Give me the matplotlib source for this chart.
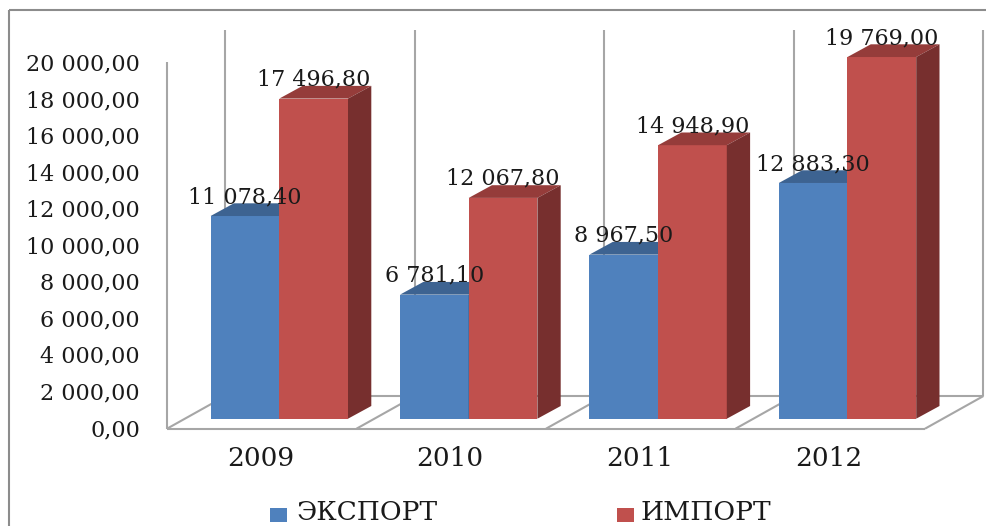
import matplotlib
matplotlib.use("Agg")
import matplotlib.pyplot as plt
from matplotlib.patches import Polygon

YEARS = ["2009", "2010", "2011", "2012"]
EXPORT = [11078.40, 6781.10, 8967.50, 12883.30]
IMPORT = [17496.80, 12067.80, 14948.90, 19769.00]
YTICKS = [0, 2000, 4000, 6000, 8000, 10000, 12000, 14000, 16000, 18000, 20000]

BLUE = ["#4F81BD", "#3D6391", "#2F4D71"]   # front, top, side
RED = ["#C0504D", "#953C3A", "#772F2E"]
LINE = "#A6A6A6"
FRAME = "#8C8C8C"
INK = "#1a1a1a"

W, H = 987, 526
X0, STEP = 279.3, 189.4    # pixel of category 0 centre, pixels per category
Y0, SCALE = 418.7, 0.018296    # pixel of value 0, pixels per unit
BAR_W = 68.7 / STEP
DX, DY = 23.3 / STEP, 12.7 / SCALE    # bar depth


def px(x, y):
    """pixel position in the reference -> data coordinates"""
    return (x - X0) / STEP, (Y0 - y) / SCALE


def money(v):
    return f"{v:,.2f}".replace(",", " ").replace(".", ",")


def bar3d(ax, x, v, cols):
    ax.bar(x, v, BAR_W, color=cols[0], linewidth=0, zorder=3)
    l, r = x - BAR_W / 2, x + BAR_W / 2
    ax.add_patch(Polygon([(l, v), (r, v), (r + DX, v + DY), (l + DX, v + DY)],
                         color=cols[1], lw=0, zorder=3))
    ax.add_patch(Polygon([(r, 0), (r + DX, DY), (r + DX, v + DY), (r, v)],
                         color=cols[2], lw=0, zorder=3))
    ax.text(x, v + 19 / SCALE, money(v), ha="center", va="center", color=INK,
            fontsize=16, zorder=5)


plt.rcParams["font.family"] = "DejaVu Serif"
fig = plt.figure(figsize=(W / 100, H / 100), dpi=100)
ax = fig.add_axes([0, 0, 1, 1])
ax.set_xlim(px(0, 0)[0], px(W, 0)[0])
ax.set_ylim(px(0, H)[1], px(0, 0)[1])
ax.axis("off")


def seg(x1, y1, x2, y2, color=LINE, lw=1.5):
    a, b = px(x1, y1), px(x2, y2)
    ax.plot([a[0], b[0]], [a[1], b[1]], color=color, lw=lw, zorder=1,
            solid_capstyle="butt", clip_on=False)


# outer frame of the picture
seg(8.5, 10, 8.5, H, FRAME)
seg(8.5, 10, W, 10, FRAME)

# walls and floor
seg(167, 62, 167, 428.7)
seg(167, 428.7, 925, 428.7)
seg(226, 396, 983, 396)
for i in range(5):
    fx = 167 + i * 189.5
    seg(fx, 428.7, fx + 58.5, 396)
    seg(fx + 58.5, 30, fx + 58.5, 396)

# y axis labels sit on the front plane, not on the bar scale
for v in YTICKS:
    ax.text(*px(140, 430 - v * 0.01828), money(v), ha="right", va="center",
            color=INK, fontsize=16)

for i, year in enumerate(YEARS):
    bar3d(ax, i - BAR_W / 2, EXPORT[i], BLUE)
    bar3d(ax, i + BAR_W / 2, IMPORT[i], RED)
    ax.text(*px(X0 + i * STEP - 18.5, 459), year, ha="center", va="center",
            color=INK, fontsize=19)

# legend
ax.add_patch(Polygon([px(270, 508), px(287, 508), px(287, 522), px(270, 522)],
                     color=BLUE[0], lw=0))
ax.add_patch(Polygon([px(617, 508), px(634, 508), px(634, 522), px(617, 522)],
                     color=RED[0], lw=0))
ax.text(*px(296, 513), "ЭКСПОРТ", ha="left", va="center", color=INK, fontsize=19)
ax.text(*px(641, 513), "ИМПОРТ", ha="left", va="center", color=INK, fontsize=19)

fig.savefig("out.png", dpi=100)
